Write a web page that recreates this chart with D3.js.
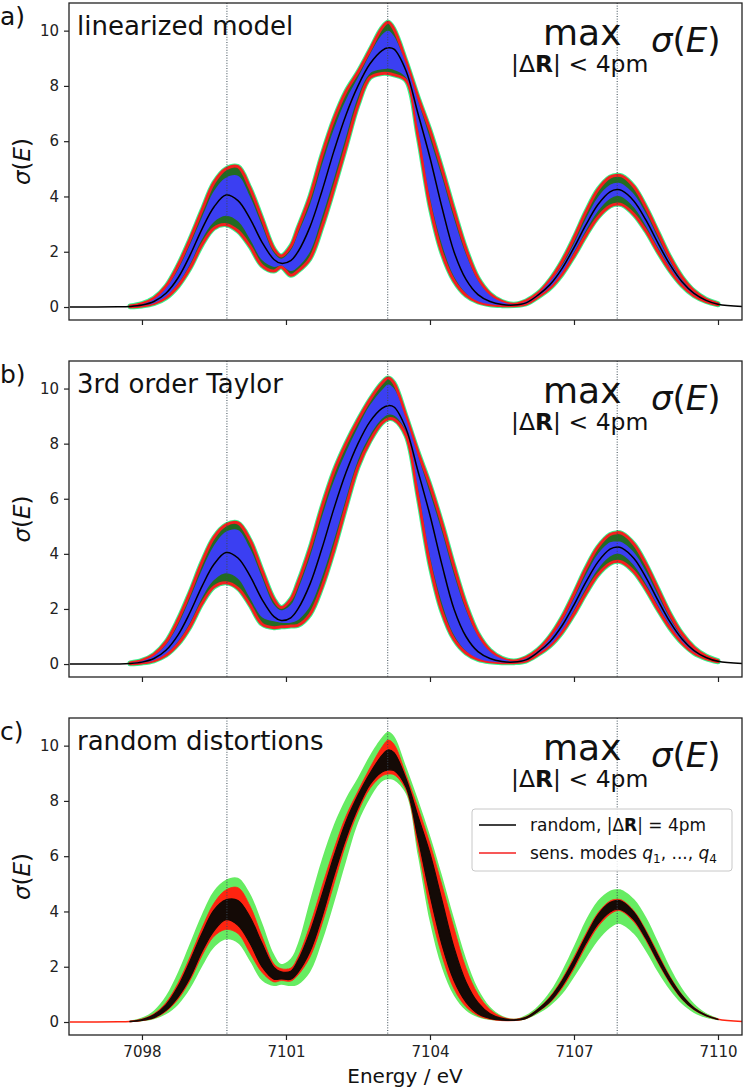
<!DOCTYPE html>
<html><head><meta charset="utf-8">
<script src="https://cdn.jsdelivr.net/npm/d3@7"></script>
<style>body{margin:0;background:#fff} svg{display:block} text{font-family:"DejaVu Sans",sans-serif}</style>
</head><body><svg id="chart" width="746" height="1090"></svg>
<script>
// ---------------- data ----------------
const energy = [7096.5, 7097.5, 7097.75, 7098, 7098.25, 7098.5, 7098.75, 7099,
 7099.25, 7099.5, 7099.75, 7100, 7100.25, 7100.5, 7100.75, 7100.9,
 7101.1, 7101.25, 7101.5, 7101.75, 7102, 7102.25, 7102.5, 7102.75,
 7103, 7103.13, 7103.25, 7103.5, 7103.75, 7104, 7104.25, 7104.5,
 7104.75, 7105, 7105.25, 7105.5, 7105.75, 7106, 7106.25, 7106.5,
 7106.75, 7107, 7107.25, 7107.5, 7107.75, 7107.9, 7108, 7108.25,
 7108.5, 7108.75, 7109, 7109.25, 7109.5, 7109.75, 7110, 7110.5];

// reference spectrum (black line)
const meanSpectrum = [0, 0.005, 0.02, 0.07, 0.2, 0.5, 1.05, 1.87,
 2.82, 3.62, 4.05, 3.85, 3.2, 2.35, 1.72, 1.58,
 1.68, 2.0, 2.9, 4.2, 5.65, 6.95, 8.0, 8.8,
 9.28, 9.38, 9.33, 8.55, 7.0, 5.4, 3.6, 2.0,
 1.0, 0.45, 0.2, 0.09, 0.07, 0.15, 0.43, 0.81,
 1.39, 2.15, 2.98, 3.71, 4.17, 4.25, 4.21, 3.83,
 3.14, 2.31, 1.53, 0.91, 0.49, 0.24, 0.1, 0.02];

// a) linearized model: outer envelope and inner (blue) envelope
const linOuterUpper = [0, 0.01, 0.04, 0.12, 0.32, 0.75, 1.5, 2.45,
 3.5, 4.5, 5.0, 5.08, 4.3, 3.2, 2.1, 1.85,
 2.2, 2.85, 4.0, 5.5, 6.8, 7.8, 8.5, 9.3,
 10.1, 10.3, 10.05, 8.9, 7.6, 6.4, 5.0, 3.5,
 2.1, 1.05, 0.48, 0.2, 0.1, 0.22, 0.5, 0.98,
 1.65, 2.5, 3.45, 4.25, 4.7, 4.77, 4.74, 4.35,
 3.6, 2.7, 1.8, 1.08, 0.58, 0.28, 0.12, 0.02];
const linOuterLower = [0, 0, 0.01, 0.04, 0.12, 0.33, 0.75, 1.4,
 2.25, 2.85, 2.98, 2.75, 2.2, 1.5, 1.3, 1.45,
 1.15, 1.3, 1.75, 2.9, 4.3, 5.8, 7.3, 8.3,
 8.45, 8.45, 8.4, 8.2, 6.2, 3.65, 1.95, 0.95,
 0.42, 0.18, 0.08, 0.05, 0.05, 0.11, 0.36, 0.68,
 1.18, 1.85, 2.6, 3.25, 3.65, 3.73, 3.7, 3.35,
 2.75, 2.0, 1.32, 0.78, 0.41, 0.2, 0.08, 0.02];
const linInnerUpper = [0, 0.01, 0.03, 0.1, 0.28, 0.68, 1.35, 2.25,
 3.25, 4.2, 4.68, 4.75, 4.0, 2.95, 1.95, 1.75,
 2.05, 2.65, 3.7, 5.15, 6.45, 7.5, 8.3, 9.15,
 9.85, 10.0, 9.8, 8.8, 7.45, 6.1, 4.7, 3.2,
 1.9, 0.95, 0.43, 0.18, 0.09, 0.19, 0.47, 0.92,
 1.5, 2.3, 3.2, 3.98, 4.42, 4.5, 4.46, 4.08,
 3.38, 2.5, 1.66, 0.99, 0.53, 0.26, 0.11, 0.02];
const linInnerLower = [0, 0, 0.01, 0.05, 0.14, 0.38, 0.85, 1.55,
 2.45, 3.08, 3.3, 3.1, 2.45, 1.7, 1.45, 1.5,
 1.3, 1.45, 2.0, 3.25, 4.65, 6.15, 7.6, 8.45,
 8.6, 8.62, 8.58, 8.3, 6.45, 3.95, 2.25, 1.1,
 0.5, 0.21, 0.1, 0.06, 0.06, 0.12, 0.39, 0.72,
 1.25, 1.98, 2.77, 3.47, 3.92, 4.02, 3.98, 3.6,
 2.92, 2.14, 1.42, 0.84, 0.45, 0.22, 0.09, 0.02];

// b) 3rd order Taylor
const taylorOuterUpper = [0, 0.01, 0.04, 0.13, 0.35, 0.8, 1.6, 2.6,
 3.7, 4.6, 5.05, 5.12, 4.5, 3.4, 2.35, 2.05,
 2.35, 2.95, 4.2, 5.7, 7.0, 8.0, 8.85, 9.6,
 10.2, 10.38, 10.2, 9.0, 7.7, 6.5, 5.1, 3.55,
 2.15, 1.1, 0.5, 0.21, 0.11, 0.23, 0.52, 1.0,
 1.68, 2.55, 3.48, 4.25, 4.7, 4.77, 4.74, 4.35,
 3.62, 2.72, 1.82, 1.1, 0.6, 0.29, 0.12, 0.02];
const taylorOuterLower = [0, 0, 0.01, 0.04, 0.12, 0.32, 0.72, 1.35,
 2.2, 2.8, 2.95, 2.75, 2.15, 1.45, 1.32, 1.35,
 1.38, 1.4, 1.8, 2.8, 4.15, 5.7, 7.15, 8.1,
 8.75, 8.9, 8.88, 8.3, 6.1, 3.6, 1.9, 0.9,
 0.4, 0.17, 0.08, 0.05, 0.05, 0.11, 0.35, 0.66,
 1.15, 1.82, 2.58, 3.25, 3.65, 3.73, 3.7, 3.35,
 2.73, 1.98, 1.3, 0.77, 0.4, 0.2, 0.08, 0.02];
const taylorInnerUpper = [0, 0.01, 0.03, 0.11, 0.3, 0.7, 1.42, 2.38,
 3.42, 4.3, 4.8, 4.87, 4.2, 3.15, 2.15, 1.95,
 2.15, 2.7, 3.9, 5.35, 6.65, 7.7, 8.6, 9.4,
 9.95, 10.15, 10.0, 8.9, 7.55, 6.2, 4.8, 3.25,
 1.95, 1.0, 0.45, 0.19, 0.1, 0.2, 0.48, 0.93,
 1.56, 2.38, 3.25, 4.0, 4.42, 4.45, 4.42, 4.05,
 3.36, 2.5, 1.66, 0.99, 0.53, 0.26, 0.11, 0.02];
const taylorInnerLower = [0, 0, 0.01, 0.05, 0.14, 0.37, 0.82, 1.5,
 2.4, 3.05, 3.3, 3.1, 2.4, 1.7, 1.55, 1.5,
 1.5, 1.6, 2.1, 3.15, 4.5, 6.0, 7.4, 8.3,
 8.9, 9.05, 9.02, 8.45, 6.4, 3.9, 2.2, 1.05,
 0.47, 0.2, 0.09, 0.06, 0.06, 0.12, 0.38, 0.7,
 1.22, 1.95, 2.75, 3.45, 3.9, 4.0, 3.97, 3.58,
 2.9, 2.12, 1.4, 0.83, 0.44, 0.22, 0.09, 0.02];

// c) random distortions: green (max envelope), red (sens. modes), black (random)
const randGreenUpper = [0, 0.01, 0.05, 0.16, 0.42, 0.95, 1.8, 2.85,
 3.9, 4.75, 5.15, 5.22, 4.65, 3.6, 2.45, 2.1,
 2.3, 2.85, 4.4, 5.9, 7.15, 8.1, 8.85, 9.65,
 10.3, 10.5, 10.35, 9.25, 8.05, 6.75, 5.3, 3.75,
 2.3, 1.2, 0.55, 0.23, 0.12, 0.25, 0.58, 1.1,
 1.85, 2.75, 3.7, 4.4, 4.75, 4.8, 4.78, 4.45,
 3.8, 2.9, 1.98, 1.22, 0.67, 0.33, 0.14, 0.02];
const randGreenLower = [0, 0, 0.01, 0.03, 0.1, 0.28, 0.62, 1.2,
 2.0, 2.7, 2.99, 2.85, 2.2, 1.5, 1.3, 1.35,
 1.3, 1.35, 1.8, 2.9, 4.3, 5.8, 7.2, 8.1,
 8.7, 8.78, 8.75, 8.25, 6.0, 3.6, 1.95, 0.95,
 0.42, 0.17, 0.07, 0.04, 0.04, 0.1, 0.3, 0.58,
 1.0, 1.62, 2.3, 2.95, 3.4, 3.55, 3.52, 3.18,
 2.55, 1.8, 1.15, 0.65, 0.33, 0.15, 0.06, 0.02];
const sensRedUpper = [0, 0.01, 0.03, 0.11, 0.3, 0.7, 1.4, 2.35,
 3.4, 4.3, 4.78, 4.86, 4.2, 3.1, 2.1, 1.93,
 1.95, 2.35, 3.5, 4.9, 6.25, 7.45, 8.35, 9.2,
 9.95, 10.2, 10.05, 8.95, 7.75, 6.45, 4.95, 3.4,
 1.95, 1.0, 0.45, 0.18, 0.1, 0.19, 0.48, 0.92,
 1.55, 2.35, 3.2, 3.95, 4.38, 4.44, 4.41, 4.02,
 3.32, 2.48, 1.65, 0.99, 0.53, 0.26, 0.11, 0.02];
const sensRedLower = [0, 0, 0.01, 0.05, 0.14, 0.38, 0.82, 1.5,
 2.4, 3.1, 3.35, 3.2, 2.5, 1.8, 1.45, 1.5,
 1.48, 1.7, 2.35, 3.55, 5.0, 6.45, 7.6, 8.45,
 8.9, 8.97, 8.95, 8.4, 6.35, 4.1, 2.4, 1.2,
 0.55, 0.23, 0.1, 0.05, 0.05, 0.12, 0.37, 0.7,
 1.22, 1.93, 2.75, 3.45, 3.9, 4.03, 4.0, 3.62,
 2.95, 2.14, 1.4, 0.82, 0.44, 0.22, 0.09, 0.02];
const randBlackUpper = [0, 0.01, 0.025, 0.09, 0.26, 0.62, 1.28, 2.2,
 3.2, 4.05, 4.42, 4.4, 3.8, 2.85, 1.98, 1.82,
 1.84, 2.22, 3.25, 4.6, 6.0, 7.25, 8.2, 9.0,
 9.65, 9.85, 9.75, 8.8, 7.45, 6.1, 4.4, 2.7,
 1.45, 0.7, 0.3, 0.13, 0.08, 0.17, 0.46, 0.87,
 1.48, 2.25, 3.1, 3.88, 4.32, 4.4, 4.36, 3.97,
 3.25, 2.4, 1.6, 0.96, 0.51, 0.25, 0.1, 0.02];
const randBlackLower = [0, 0, 0.015, 0.06, 0.16, 0.42, 0.9, 1.6,
 2.55, 3.3, 3.7, 3.5, 2.85, 2.0, 1.55, 1.56,
 1.55, 1.8, 2.55, 3.8, 5.3, 6.65, 7.75, 8.6,
 9.05, 9.12, 9.1, 8.5, 6.65, 4.6, 2.8, 1.5,
 0.72, 0.3, 0.13, 0.07, 0.06, 0.13, 0.39, 0.74,
 1.3, 2.03, 2.86, 3.55, 3.98, 4.08, 4.05, 3.7,
 3.02, 2.2, 1.45, 0.85, 0.46, 0.23, 0.09, 0.02];

const markerEnergies = [7099.77, 7103.12, 7107.9];
const xTicks = [7098, 7101, 7104, 7107, 7110];
const yTicks = [0, 2, 4, 6, 8, 10];
const panelLetters = ["a)", "b)", "c)"];
const panelTitles = ["linearized model", "3rd order Taylor", "random distortions"];

// ---------------- drawing ----------------
const svg = d3.select("#chart");
svg.append("rect").attr("width", 746).attr("height", 1090).attr("fill", "#fff");

const X0 = 69, X1 = 742;
const x = d3.scaleLinear().domain([7096.48, 7110.5]).range([X0, X1]);
const idx = d3.range(energy.length);
const bandIdx = idx.slice(2, 55);
const curve = d3.curveCatmullRom.alpha(0.5);

const C = {
  blue: "#3b3ff2", dgreen: "#226b22", red: "#f41f1f", spring: "#36f58c",
  lgreen: "#66ec62", sred: "#ff2410", black: "#140a06"
};

const panels = [
  {top: 3, bottom: 320, oU: linOuterUpper, oL: linOuterLower, iU: linInnerUpper, iL: linInnerLower, xLabels: false},
  {top: 361, bottom: 677, oU: taylorOuterUpper, oL: taylorOuterLower, iU: taylorInnerUpper, iL: taylorInnerLower, xLabels: false},
  {top: 718, bottom: 1035, random: true, xLabels: true}
];

function bandPath(y, up, lo, ids) {
  return d3.area().x(i => x(energy[i])).y0(i => y(lo[i])).y1(i => y(up[i])).curve(curve)(ids);
}
function linePath(y, vals, ids) {
  return d3.line().x(i => x(energy[i])).y(i => y(vals[i])).curve(curve)(ids);
}

panels.forEach((p, k) => {
  const y = d3.scaleLinear().domain([-0.47, 11.0]).range([p.bottom, p.top]);
  const g = svg.append("g");
  const clipId = "clip" + k;
  svg.append("clipPath").attr("id", clipId).append("rect")
    .attr("x", X0).attr("y", p.top).attr("width", X1 - X0).attr("height", p.bottom - p.top);
  const plot = g.append("g").attr("clip-path", `url(#${clipId})`);

  if (!p.random) {
    const outer = bandPath(y, p.oU, p.oL, bandIdx);
    plot.append("path").attr("d", outer).attr("fill", "none").attr("stroke", C.spring).attr("stroke-width", 5).attr("stroke-linejoin", "round");
    plot.append("path").attr("d", outer).attr("fill", C.dgreen).attr("stroke", C.red).attr("stroke-width", 3).attr("stroke-linejoin", "round");
    plot.append("path").attr("d", bandPath(y, p.iU, p.iL, bandIdx)).attr("fill", C.blue);
    plot.append("path").attr("d", linePath(y, meanSpectrum, idx))
      .attr("fill", "none").attr("stroke", "#000").attr("stroke-width", 1.5);
  } else {
    plot.append("path").attr("d", bandPath(y, randGreenUpper, randGreenLower, bandIdx)).attr("fill", C.lgreen);
    plot.append("path").attr("d", bandPath(y, sensRedUpper, sensRedLower, bandIdx)).attr("fill", C.sred).attr("stroke", C.sred).attr("stroke-width", 0.8);
    plot.append("path").attr("d", linePath(y, meanSpectrum, idx))
      .attr("fill", "none").attr("stroke", C.sred).attr("stroke-width", 1.5);
    plot.append("path").attr("d", bandPath(y, randBlackUpper, randBlackLower, bandIdx)).attr("fill", C.black).attr("stroke", C.black).attr("stroke-width", 1.2);
  }

  // dotted markers
  plot.selectAll("line.marker").data(markerEnergies).enter().append("line")
    .attr("x1", d => x(d)).attr("x2", d => x(d)).attr("y1", p.top).attr("y2", p.bottom)
    .attr("stroke", "#3a4a55").attr("stroke-width", 1).attr("stroke-dasharray", "1,1.6");

  // axes
  const gx = g.append("g").attr("transform", `translate(0,${p.bottom})`)
    .call(d3.axisBottom(x).tickValues(xTicks).tickSize(5).tickPadding(6)
      .tickFormat(p.xLabels ? d3.format("d") : () => ""));
  const gy = g.append("g").attr("transform", `translate(${X0},0)`)
    .call(d3.axisLeft(y).tickValues(yTicks).tickSize(5).tickPadding(5).tickFormat(d3.format("d")));
  [gx, gy].forEach(a => {
    a.select(".domain").remove();
    a.selectAll("line").attr("stroke", "#222").attr("stroke-width", 1.2);
    a.selectAll("text").attr("font-size", 15).attr("fill", "#222").attr("font-family", "DejaVu Sans");
  });
  g.append("rect").attr("x", X0).attr("y", p.top).attr("width", X1 - X0).attr("height", p.bottom - p.top)
    .attr("fill", "none").attr("stroke", "#222").attr("stroke-width", 1.3);

  // y-label
  const cy = (p.top + p.bottom) / 2;
  const yl = g.append("text").attr("transform", `translate(30,${cy}) rotate(-90)`)
    .attr("text-anchor", "middle").attr("font-size", 23).attr("fill", "#111");
  yl.append("tspan").attr("font-style", "italic").text("σ");
  yl.append("tspan").text("(");
  yl.append("tspan").attr("font-style", "italic").text("E");
  yl.append("tspan").text(")");

  // panel letter and title
  g.append("text").attr("x", 0).attr("y", p.top + 22).attr("font-size", 25).attr("fill", "#111").text(panelLetters[k]);
  g.append("text").attr("x", 77).attr("y", p.top + 32).attr("font-size", 26).attr("fill", "#111").text(panelTitles[k]);

  // max annotation
  g.append("text").attr("x", 543).attr("y", p.top + 42).attr("font-size", 36).attr("fill", "#111").text("max");
  const sub = g.append("text").attr("x", 511).attr("y", p.top + 69).attr("font-size", 23.5).attr("fill", "#111");
  sub.append("tspan").text("|Δ");
  sub.append("tspan").attr("font-weight", "bold").text("R");
  sub.append("tspan").text("| < 4pm");
  const sg = g.append("text").attr("x", 651).attr("y", p.top + 49).attr("font-size", 34).attr("fill", "#111");
  sg.append("tspan").attr("font-style", "italic").text("σ");
  sg.append("tspan").text("(");
  sg.append("tspan").attr("font-style", "italic").text("E");
  sg.append("tspan").text(")");

  if (p.random) {
    const lg = g.append("g");
    lg.append("rect").attr("x", 472).attr("y", 809).attr("width", 260).attr("height", 62).attr("rx", 3)
      .attr("fill", "#fff").attr("fill-opacity", 0.85).attr("stroke", "#c8c8c8").attr("stroke-width", 1);
    lg.append("line").attr("x1", 479).attr("x2", 516).attr("y1", 825).attr("y2", 825).attr("stroke", "#000").attr("stroke-width", 1.5);
    lg.append("line").attr("x1", 479).attr("x2", 516).attr("y1", 853).attr("y2", 853).attr("stroke", "#f42020").attr("stroke-width", 1.5);
    const t1 = lg.append("text").attr("x", 530).attr("y", 831).attr("font-size", 17).attr("fill", "#111");
    t1.append("tspan").text("random, |Δ");
    t1.append("tspan").attr("font-weight", "bold").text("R");
    t1.append("tspan").text("| = 4pm");
    const t2 = lg.append("text").attr("x", 530).attr("y", 859).attr("font-size", 17).attr("fill", "#111");
    t2.append("tspan").text("sens. modes ");
    t2.append("tspan").attr("font-style", "italic").text("q");
    t2.append("tspan").attr("font-size", 12).attr("dy", 4).text("1");
    t2.append("tspan").attr("dy", -4).text(", ..., ");
    t2.append("tspan").attr("font-style", "italic").text("q");
    t2.append("tspan").attr("font-size", 12).attr("dy", 4).text("4");

    svg.append("text").attr("x", 405).attr("y", 1083).attr("text-anchor", "middle")
      .attr("font-size", 20).attr("fill", "#111").text("Energy / eV");
  }
});
</script>
</body></html>
